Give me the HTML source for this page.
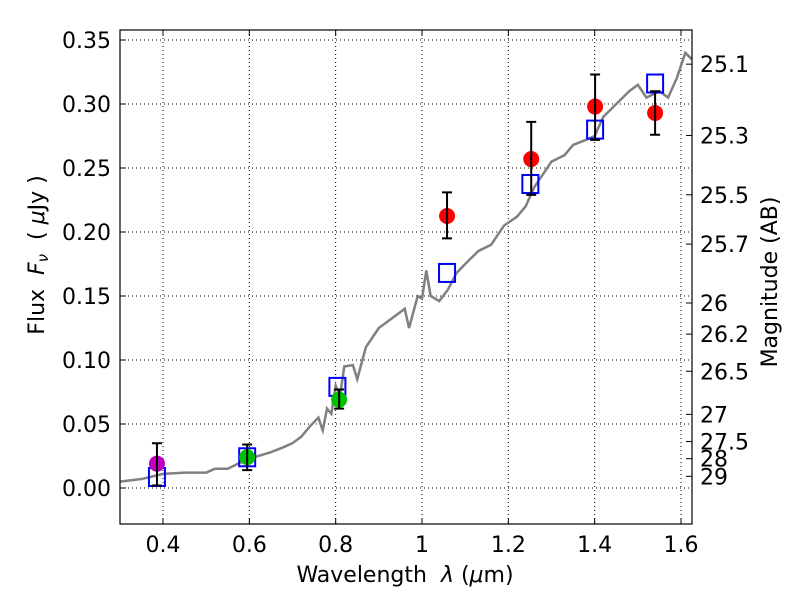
<!DOCTYPE html>
<html><head><meta charset="utf-8"><style>
body{margin:0;background:#fff;}
svg text{font-family:"DejaVu Sans","Liberation Sans",sans-serif;white-space:pre;}
</style></head><body>
<svg id="chart" width="800" height="600" xmlns="http://www.w3.org/2000/svg">
<rect width="800" height="600" fill="#fff"/>
<g id="grid"></g>
<g id="spec"></g>
<g id="marks"></g>
<g id="axes"></g>
<text x="405" y="582" font-size="22" text-anchor="middle">Wavelength&#160;&#160;<tspan font-style="italic">λ</tspan> (<tspan font-style="italic">μ</tspan>m)</text>
<text transform="translate(44,255) rotate(-90)" font-size="22" text-anchor="middle">Flux&#160;&#160;<tspan font-style="italic">F<tspan font-size="15" dy="4">ν</tspan></tspan><tspan dy="-4">&#160;&#160;( </tspan><tspan font-style="italic">μ</tspan>Jy )</text>
<text transform="translate(777,282) rotate(-90)" font-size="22" text-anchor="middle">Magnitude (AB)</text>
</svg>
<script>
const specLam=[0.30,0.35,0.40,0.45,0.50,0.52,0.55,0.58,0.62,0.65,0.68,0.70,0.72,0.74,0.76,0.77,0.78,0.79,0.80,0.81,0.82,0.84,0.85,0.87,0.90,0.92,0.94,0.96,0.97,0.99,1.00,1.01,1.02,1.04,1.06,1.08,1.10,1.13,1.16,1.19,1.22,1.24,1.26,1.28,1.30,1.33,1.35,1.38,1.40,1.42,1.45,1.48,1.50,1.52,1.55,1.57,1.59,1.61,1.625];
const specFlux=[0.005,0.007,0.011,0.012,0.012,0.015,0.015,0.020,0.025,0.028,0.032,0.035,0.040,0.048,0.055,0.045,0.062,0.058,0.080,0.072,0.095,0.096,0.085,0.110,0.125,0.130,0.135,0.140,0.125,0.150,0.148,0.170,0.150,0.146,0.155,0.168,0.175,0.185,0.190,0.205,0.212,0.220,0.235,0.245,0.255,0.260,0.268,0.272,0.275,0.290,0.300,0.310,0.315,0.305,0.310,0.305,0.320,0.340,0.335];
const obsLam=[0.386,0.595,0.808,1.058,1.253,1.401,1.540];
const obsFlux=[0.019,0.024,0.069,0.2125,0.257,0.298,0.293];
const obsHi=[0.035,0.034,0.077,0.231,0.286,0.323,0.310];
const obsLo=[0.002,0.014,0.062,0.195,0.229,0.272,0.276];
const obsColor=['#bf00bf','#00c000','#00c000','#ff0000','#ff0000','#ff0000','#ff0000'];
const modLam=[0.386,0.595,0.804,1.058,1.251,1.401,1.540];
const modFlux=[0.0086,0.024,0.079,0.168,0.2375,0.28,0.316];
const xTicks=[0.4,0.6,0.8,1.0,1.2,1.4,1.6];
const xTickLabels=['0.4','0.6','0.8','1','1.2','1.4','1.6'];
const yTicks=[0,0.05,0.10,0.15,0.20,0.25,0.30,0.35];
const yTickLabels=['0.00','0.05','0.10','0.15','0.20','0.25','0.30','0.35'];
const magTicks=[25.1,25.3,25.5,25.7,26,26.2,26.5,27,27.5,28,29];
const magLabels=['25.1','25.3','25.5','25.7','26','26.2','26.5','27','27.5','28','29'];

const L=120,R=692,T=30,B=524;
const X=v=>163+(v-0.4)*431.67;
const Y=v=>488-v*1280;
const NS='http://www.w3.org/2000/svg';
function mk(p,t,a){const e=document.createElementNS(NS,t);for(const k in a)e.setAttribute(k,a[k]);p.appendChild(e);return e;}
const grid=document.getElementById('grid'),axes=document.getElementById('axes'),spec=document.getElementById('spec'),marks=document.getElementById('marks');
xTicks.forEach((t,i)=>{
 const g=mk(grid,'line',{x1:X(t),x2:X(t),y1:T,y2:B,stroke:'#000','stroke-width':1,'stroke-dasharray':'1,3'});
 
 
 mk(axes,'line',{x1:X(t),x2:X(t),y1:B,y2:B-6,stroke:'#000'});
 mk(axes,'line',{x1:X(t),x2:X(t),y1:T,y2:T+6,stroke:'#000'});
 const tx=mk(axes,'text',{x:X(t),y:B+28,'font-size':22,'text-anchor':'middle'});tx.textContent=xTickLabels[i];
 
 
});
yTicks.forEach((t,i)=>{
 const g=mk(grid,'line',{x1:L,x2:R,y1:Y(t),y2:Y(t),stroke:'#000','stroke-width':1,'stroke-dasharray':'1,3'});
 
 
 mk(axes,'line',{x1:L,x2:L+6,y1:Y(t),y2:Y(t),stroke:'#000'});
 const tx=mk(axes,'text',{x:L-9,y:Y(t)+8,'font-size':22,'text-anchor':'end'});tx.textContent=yTickLabels[i];
 
 
});
magTicks.forEach((m,i)=>{
 const y=Y(Math.pow(10,(23.9-m)/2.5));
 mk(axes,'line',{x1:R,x2:R-6,y1:y,y2:y,stroke:'#000'});
 const tx=mk(axes,'text',{x:R+8,y:y+8,'font-size':22});tx.textContent=magLabels[i];
 
 
});
const fr=mk(axes,'rect',{x:L,y:T,width:R-L,height:B-T,fill:'none',stroke:'#000','stroke-width':1.2});


const pl=mk(spec,'polyline',{points:specLam.map((l,i)=>X(l)+','+Y(specFlux[i])).join(' '),fill:'none',stroke:'#808080','stroke-width':2.5});


modLam.forEach((l,i)=>{
 const s=mk(marks,'rect',{x:X(l)-8,y:Y(modFlux[i])-9,width:16,height:18,fill:'none',stroke:'#0000ff','stroke-width':2});
 
 
});
obsLam.forEach((l,i)=>{
 const x=X(l);
 const c=mk(marks,'circle',{cx:x,cy:Y(obsFlux[i]),r:8,fill:obsColor[i]});
 
 
 const e=mk(marks,'path',{d:`M${x},${Y(obsHi[i])}V${Y(obsLo[i])}M${x-5},${Y(obsHi[i])}h10M${x-5},${Y(obsLo[i])}h10`,stroke:'#000','stroke-width':2,fill:'none'});
 
 
});
</script>
</body></html>
